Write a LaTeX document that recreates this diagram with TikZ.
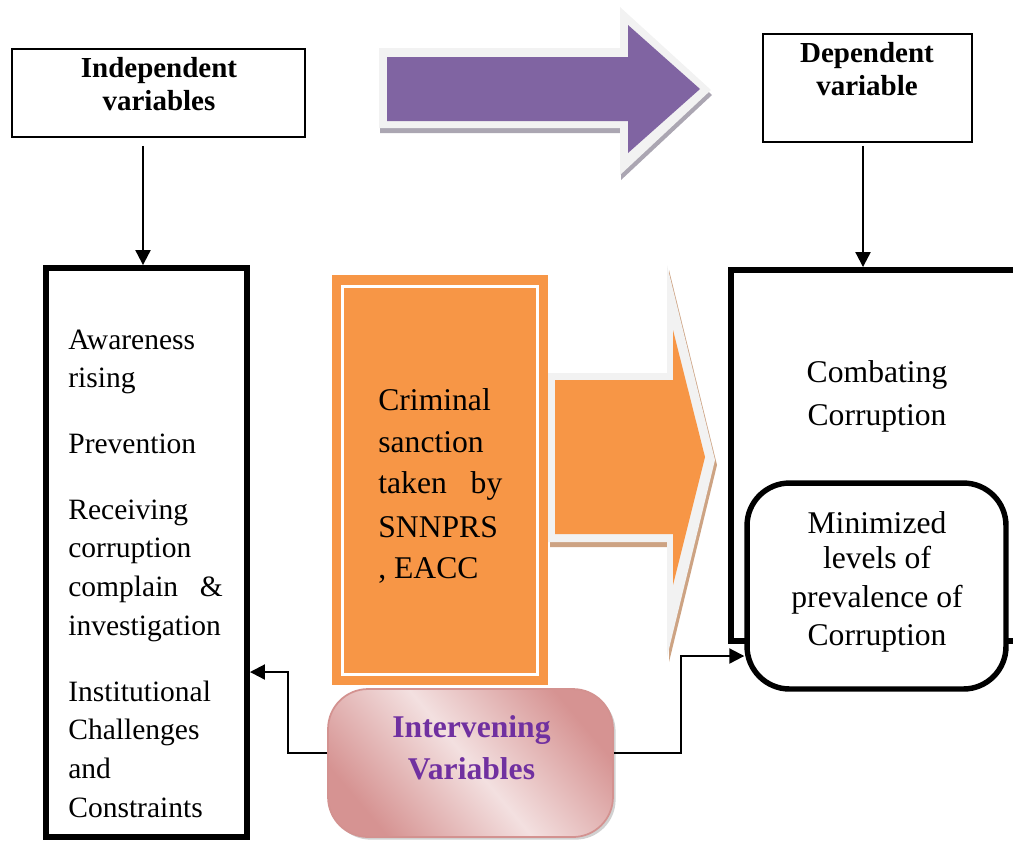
\documentclass[tikz,border=0pt]{standalone}
\usepackage{fontspec}
\setmainfont{Liberation Serif}
\usetikzlibrary{arrows.meta,shadows}
\definecolor{purp}{HTML}{8064A2}
\definecolor{orng}{HTML}{F79646}
\definecolor{bord}{HTML}{F2F2F2}
\definecolor{pshadow}{HTML}{ABA6B2}
\definecolor{oshadow}{HTML}{CDA383}
\definecolor{pinkdark}{HTML}{D69392}
\definecolor{pinklight}{HTML}{F3E0E0}
\definecolor{pinkline}{HTML}{D39290}
\definecolor{violettxt}{HTML}{7030A0}
\newcommand\setfs[2]{\fontsize{#1}{#2}\selectfont}
\begin{document}
\begin{tikzpicture}[x=0.02cm,y=-0.02cm,
  hbox/.style={draw, line width=1.1pt, inner sep=0},
  thickbox/.style={draw, line width=3.4pt, inner sep=0, fill=white},
  conn/.style={line width=1.2pt, -{Triangle[length=0.3cm,width=0.3cm]}},
  headtxt/.style={anchor=base, inner sep=0, font=\setfs{16.5}{19}\bfseries},
  lefttxt/.style={anchor=base west, inner sep=0, font=\setfs{16.8}{20}},
  bigtxt/.style={anchor=base, inner sep=0, font=\setfs{18}{21}},
  crimtxt/.style={anchor=base west, inner sep=0, font=\setfs{18}{21}},
  intertxt/.style={anchor=base, inner sep=0, text=violettxt, font=\setfs{18}{21}\bfseries}
]
\useasboundingbox (0,0) rectangle (1013,840);
\clip (0,0) rectangle (1013,840);

% header boxes
\node[hbox, minimum width=5.86cm, minimum height=1.76cm] (indep) at (158.5,93) {};
\node[headtxt] (indepA) at (159,77) {Independent};
\node[headtxt] (indepB) at (159,110) {variables};

\node[hbox, minimum width=4.18cm, minimum height=2.16cm] (dep) at (867.5,88) {};
\node[headtxt] (depA) at (867,62) {Dependent};
\node[headtxt] (depB) at (867,95) {variable};

% purple block arrow
\fill[pshadow, shift={(1,5)}] (379,48) -- (620,48) -- (620,7) -- (711,90) -- (620,175) -- (620,128) -- (379,128) -- cycle;
\fill[bord] (379,48) -- (620,48) -- (620,7) -- (711,90) -- (620,175) -- (620,128) -- (379,128) -- cycle;
\fill[purp] (387,57) -- (628,57) -- (628,25) -- (700,89) -- (628,153) -- (628,121) -- (387,121) -- cycle;

% left box
\node[thickbox, minimum width=4.02cm, minimum height=11.38cm] (leftbox) at (146.5,552.5) {};
\node[lefttxt] (l1) at (68,349) {Awareness};
\node[lefttxt] (l2) at (68,387) {rising};
\node[lefttxt] (l3) at (68,453) {Prevention};
\node[lefttxt] (l4) at (68,519) {Receiving};
\node[lefttxt] (l5) at (68,557) {corruption};
\node[lefttxt] (l6) at (68,596) {\makebox[3.09cm][l]{complain\hfill\&}};
\node[lefttxt] (l7) at (68,635) {investigation};
\node[lefttxt] (l8) at (68,701) {Institutional};
\node[lefttxt] (l9) at (68,739) {Challenges};
\node[lefttxt] (l10) at (68,778) {and};
\node[lefttxt] (l11) at (68,817) {Constraints};

% right boxes
\node[thickbox, minimum width=6.28cm, minimum height=7.42cm] (rightbox) at (888,455.5) {};
\node[bigtxt] (rA) at (877,382) {Combating};
\node[bigtxt] (rB) at (877,425) {Corruption};
\node[thickbox, line width=3.1pt, rounded corners=0.85cm, minimum width=5.18cm, minimum height=4.12cm] (minbox) at (876.5,586) {};
\node[bigtxt] (mA) at (877,533) {Minimized};
\node[bigtxt] (mB) at (877,568) {levels of};
\node[bigtxt] (mC) at (877,607) {prevalence of};
\node[bigtxt] (mD) at (877,645) {Corruption};

% orange box
\node[fill=orng, inner sep=0, minimum width=4.32cm, minimum height=8.2cm] (crim) at (440,480) {};
\draw[white, line width=1.7pt] ([shift={(11,12)}]crim.north west) rectangle ([shift={(-11,-11)}]crim.south east);
\node[crimtxt] (cA) at (378,410) {Criminal};
\node[crimtxt] (cB) at (378,452) {sanction};
\node[crimtxt] (cC) at (378,493) {\makebox[2.48cm][l]{taken\hfill by}};
\node[crimtxt] (cD) at (378,537) {SNNPRS};
\node[crimtxt] (cE) at (378,578) {, EACC};

% orange block arrow
\fill[oshadow, shift={(2,5)}] (548,373) -- (667,373) -- (667,265) -- (715,460) -- (667,657) -- (667,542) -- (548,542) -- cycle;
\fill[bord] (548,373) -- (667,373) -- (667,265) -- (715,460) -- (667,657) -- (667,542) -- (548,542) -- cycle;
\fill[orng] (555,380) -- (673,380) -- (673,330) -- (705,457) -- (673,585) -- (673,534) -- (555,534) -- cycle;

% intervening variables
\node[draw=pinkline, line width=1pt, rounded corners=0.8cm, minimum width=5.7cm, minimum height=2.96cm,
  left color=pinkdark, right color=pinkdark, middle color=pinklight, shading angle=-50,
  drop shadow={shadow xshift=1.5pt, shadow yshift=-1.5pt, fill=gray!60, opacity=0.6}] (interv) at (470.5,763) {};
\node[intertxt] (iA) at (471.5,737) {Intervening};
\node[intertxt] (iB) at (471.5,779) {Variables};

% connectors
\coordinate (ia) at ([xshift=-0.31cm,yshift=-0.16cm]indep.south);
\draw[conn] (ia) -- (ia |- leftbox.north);
\coordinate (da) at ([xshift=-0.09cm,yshift=-0.06cm]dep.south);
\draw[conn] (da) -- (da |- rightbox.north);
\coordinate (jl) at (288,672);
\draw[conn] ([yshift=0.2cm]interv.west) -| (jl) -- (jl -| leftbox.east);
\coordinate (jr) at (681,656);
\draw[conn] ([yshift=0.2cm]interv.east) -| (jr) -- (jr -| minbox.west);
\end{tikzpicture}
\end{document}
